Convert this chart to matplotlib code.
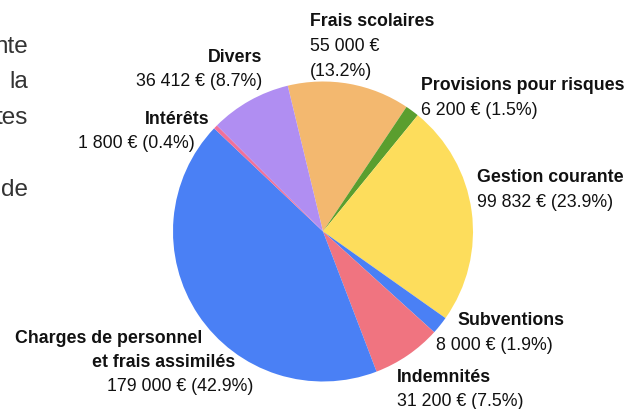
import matplotlib
matplotlib.use("Agg")
import matplotlib.pyplot as plt

plt.rcParams["font.family"] = ["Liberation Sans", "DejaVu Sans"]

# données (ordre horaire à partir de "Frais scolaires")
categories = ["Frais scolaires", "Provisions pour risques", "Gestion courante",
              "Subventions", "Indemnités", "Charges de personnel\net frais assimilés",
              "Intérêts", "Divers"]
amounts = [55000, 6200, 99832, 8000, 31200, 179000, 1800, 36412]
colors = ["#f3b86f", "#5a9e2e", "#fddd5c", "#4a80f5", "#f07480",
          "#4a80f5", "#f0709a", "#b08ef2"]

# texte d'arrière-plan coupé sur la gauche
side_text = ["nte", "la", "tes", "de"]
side_baselines = [53, 88, 124, 196]

W, H = 630, 410
fig = plt.figure(figsize=(W / 100, H / 100), dpi=100)

cx, cy, r = 323, 232.5, 150
ax = fig.add_axes([(cx - r) / W, (H - cy - r) / H, 2 * r / W, 2 * r / H])
ax.pie(amounts, colors=colors, startangle=103.6, counterclock=False,
       radius=1, wedgeprops=dict(linewidth=0))
ax.set_xlim(-1, 1)
ax.set_ylim(-1, 1)
ax.set_aspect("equal")
ax.axis("off")

total = sum(amounts)


def fmt(v):
    return f"{v:,}".replace(",", " ") + " €"


def px(x, y, s, bold=False, ha="left", size=12.8):
    fig.text(x / W, 1 - y / H, s, ha=ha, va="baseline", fontsize=size,
             fontweight="bold" if bold else "normal", color="#111111")


pct = [f"({a / total * 100:.1f}%)" for a in amounts]

# Frais scolaires
px(310, 26, categories[0], bold=True)
px(310, 51, fmt(amounts[0]))
px(310, 76, pct[0])
# Provisions
px(421, 90, categories[1], bold=True)
px(421, 115, f"{fmt(amounts[1])} {pct[1]}")
# Gestion courante
px(477, 182, categories[2], bold=True)
px(477, 207, f"{fmt(amounts[2])} {pct[2]}")
# Subventions
px(457, 325, categories[3], bold=True)
px(436, 350, f"{fmt(amounts[3])} {pct[3]}")
# Indemnités
px(397, 382, categories[4], bold=True)
px(397, 406, f"{fmt(amounts[4])} {pct[4]}")
# Charges de personnel
l1, l2 = categories[5].split("\n")
px(202, 343, l1, bold=True, ha="right")
px(235, 367, l2, bold=True, ha="right")
px(253, 391, f"{fmt(amounts[5])} {pct[5]}", ha="right")
# Intérêts
px(209, 124, categories[6], bold=True, ha="right")
px(195, 148, f"{fmt(amounts[6])} {pct[6]}", ha="right")
# Divers
px(262, 62, categories[7], bold=True, ha="right")
px(262, 86, f"{fmt(amounts[7])} {pct[7]}", ha="right")

for s, b in zip(side_text, side_baselines):
    fig.text(28 / W, 1 - b / H, s, ha="right", va="baseline", fontsize=17.5,
             color="#333333")

fig.savefig("out.png", dpi=100)
